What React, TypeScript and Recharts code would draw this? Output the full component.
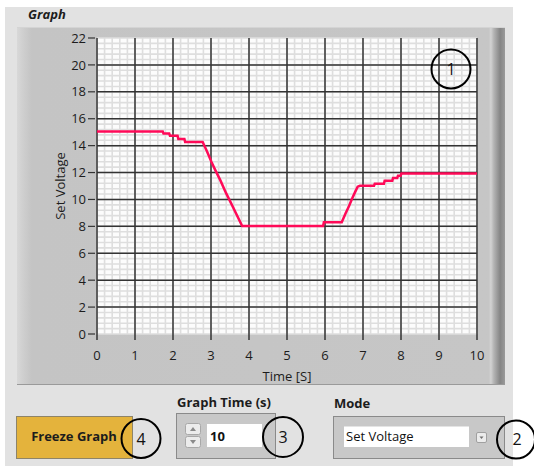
import React from 'react';
import { LineChart, Line, XAxis, YAxis, CartesianGrid } from 'recharts';

// ---- data ----
const timeS = [0, 1.73, 1.75, 1.9, 1.92, 2.12, 2.14, 2.3, 2.32, 2.78, 2.89, 3.01, 3.11, 3.25, 3.4, 3.55, 3.66, 3.82, 5.95, 5.97, 6.44, 6.54, 6.63, 6.72, 6.8, 6.86, 6.92, 7.29, 7.31, 7.55, 7.57, 7.77, 7.79, 7.9, 7.92, 7.99, 8.01, 10];
const setVoltage = [15.05, 15.05, 14.9, 14.9, 14.74, 14.74, 14.5, 14.5, 14.27, 14.27, 13.6, 12.8, 12.2, 11.4, 10.45, 9.6, 8.95, 8.03, 8.03, 8.3, 8.3, 8.95, 9.5, 10.1, 10.6, 10.95, 11.02, 11.02, 11.17, 11.17, 11.39, 11.39, 11.59, 11.59, 11.76, 11.76, 11.92, 11.92];

const xTicks = [0, 1, 2, 3, 4, 5, 6, 7, 8, 9, 10];
const yTicks = [0, 2, 4, 6, 8, 10, 12, 14, 16, 18, 20, 22];
const majorXGrid = [1, 2, 3, 4, 5, 6, 7, 8, 9];
const majorYGrid = [2, 4, 6, 8, 10, 12, 14, 16, 18, 20];
const minorXGrid = Array.from({ length: 51 }, (_, i) => Math.round(i * 2) / 10);
const minorYGrid = Array.from({ length: 56 }, (_, i) => Math.round(i * 4) / 10);
const yDomain: [number, number] = [0, 22];

const xLabel = 'Time [S]';
const yLabel = 'Set Voltage';

const data = timeS.map((t, i) => ({ t, v: setVoltage[i] }));

const FONT = '"Open Sans", "DejaVu Sans", sans-serif';
const TXT = '#1c1c1c';

// map y-values through the chart's y scale (fallback: linear over the plot box)
const yCoords = (values: number[]) => (props: any) => {
  const yAxis = props && props.yAxis;
  if (yAxis && typeof yAxis.scale === 'function') {
    return values.map((v) => yAxis.scale(v));
  }
  const off = props.offset;
  return values.map((v) => off.top + off.height * (1 - (v - yDomain[0]) / (yDomain[1] - yDomain[0])));
};

const Background = () => (
  <svg width={534} height={466} style={{ position: 'absolute', left: 0, top: 0 }}>
    <defs>
      <linearGradient id="frameG" gradientUnits="userSpaceOnUse" x1={17} y1={0} x2={505} y2={0}>
        <stop offset={0} stopColor="#d8d8d8" />
        <stop offset={0.012} stopColor="#cfcfcf" />
        <stop offset={0.03} stopColor="#c4c4c4" />
        <stop offset={0.967} stopColor="#c6c6c6" />
        <stop offset={0.971} stopColor="#d2d2d2" />
        <stop offset={0.977} stopColor="#b4b4b4" />
        <stop offset={0.99} stopColor="#858585" />
        <stop offset={1} stopColor="#9a9a9a" />
      </linearGradient>
    </defs>
    <rect x={0} y={0} width={534} height={466} fill="#ffffff" />
    <rect x={5} y={7} width={508} height={459} fill="#e2e2e2" />
    <text x={28} y={19} fontFamily={FONT} fontSize={13} fontWeight="bold" fontStyle="italic" fill={TXT}>Graph</text>
    <rect x={17} y={27} width={488} height={358} fill="url(#frameG)" />
    <line x1={17} y1={27.5} x2={505} y2={27.5} stroke="#d4d4d4" />
    <line x1={17} y1={384.5} x2={505} y2={384.5} stroke="#9a9a9a" />
  </svg>
);

const Overlay = () => (
  <svg width={534} height={466} style={{ position: 'absolute', left: 0, top: 0, pointerEvents: 'none' }}>
    {/* circle 1 */}
    <circle cx={451} cy={69} r={19.5} fill="none" stroke="#000" strokeWidth={2} />
    <text x={451} y={75} textAnchor="middle" fontFamily={FONT} fontSize={16} fill="#111">1</text>

    {/* Freeze Graph button */}
    <rect x={16.5} y={416.5} width={116} height={42} fill="#e4b33c" stroke="#8e8468" />
    <text x={74} y={441} textAnchor="middle" fontFamily={FONT} fontSize={13} fontWeight="bold" fill={TXT}>Freeze Graph</text>
    <circle cx={141} cy={438.5} r={19.5} fill="none" stroke="#000" strokeWidth={2} />
    <text x={141} y={445} textAnchor="middle" fontFamily={FONT} fontSize={16} fill="#111">4</text>

    {/* Graph Time control */}
    <text x={177} y={407} fontFamily={FONT} fontSize={13} fontWeight="bold" fill={TXT}>Graph Time (s)</text>
    <rect x={176.5} y={413.5} width={99} height={45} fill="#c8c8c8" stroke="#8a8a8a" />
    <rect x={185.5} y={423.5} width={15} height={11} rx={2} fill="#ececec" stroke="#a8a8a8" />
    <path d="M190 431 L193 427 L196 431 Z" fill="#8a8a8a" />
    <rect x={185.5} y={436.5} width={15} height={11} rx={2} fill="#ececec" stroke="#a8a8a8" />
    <path d="M190 440 L193 444 L196 440 Z" fill="#8a8a8a" />
    <rect x={207} y={424} width={55} height={23} fill="#ffffff" />
    <text x={210} y={441} fontFamily={FONT} fontSize={13} fontWeight="bold" fill="#111">10</text>
    <circle cx={283} cy={437} r={20} fill="none" stroke="#000" strokeWidth={2} />
    <text x={283} y={443} textAnchor="middle" fontFamily={FONT} fontSize={16} fill="#111">3</text>

    {/* Mode control */}
    <text x={334} y={408} fontFamily={FONT} fontSize={13} fontWeight="bold" fill={TXT}>Mode</text>
    <rect x={333.5} y={416.5} width={171} height={42} fill="#c8c8c8" stroke="#8a8a8a" />
    <rect x={344} y={426.5} width={125} height={20.5} fill="#ffffff" />
    <text x={346} y={441} fontFamily={FONT} fontSize={13} fill="#111">Set Voltage</text>
    <rect x={476.5} y={432.5} width={10} height={10} rx={1.5} fill="#ececec" stroke="#a0a0a0" />
    <path d="M479.5 436.5 L483.5 436.5 L481.5 439 Z" fill="#707070" />
    <circle cx={516} cy={439.5} r={19} fill="none" stroke="#000" strokeWidth={2} />
    <text x={517} y={445} textAnchor="middle" fontFamily={FONT} fontSize={16} fill="#111">2</text>
  </svg>
);

export default function App() {
  const tickStyle = { fill: TXT, fontSize: 13, fontFamily: FONT };
  return (
    <div style={{ position: 'absolute', left: 0, top: 0, width: 534, height: 466, overflow: 'hidden' }}>
      <Background />
      <div style={{ position: 'absolute', left: 0, top: 0 }}>
        <LineChart width={534} height={466} data={data} margin={{ top: 38, right: 57, bottom: 82, left: 52 }}>
          <XAxis xAxisId="minor" type="number" dataKey="t" domain={[0, 10]} ticks={minorXGrid} interval={0} hide />
          <XAxis xAxisId="major" type="number" dataKey="t" domain={[0, 10]} ticks={majorXGrid} interval={0} hide />
          <CartesianGrid
            xAxisId="minor"
            stroke="#dedede"
            strokeWidth={1.6}
            fill="#fcfcfc"
            fillOpacity={1}
            horizontalCoordinatesGenerator={yCoords(minorYGrid)}
          />
          <CartesianGrid
            xAxisId="major"
            stroke="#333333"
            strokeWidth={1.5}
            horizontalCoordinatesGenerator={yCoords(majorYGrid)}
          />
          <XAxis
            type="number"
            dataKey="t"
            domain={[0, 10]}
            ticks={xTicks}
            height={50}
            axisLine={false}
            tickSize={10}
            tickMargin={7}
            tickLine={{ stroke: '#333', strokeWidth: 1.5, strokeDasharray: '0 4 6 100' }}
            tick={tickStyle}
            interval={0}
            label={{ value: xLabel, position: 'insideBottom', offset: 3, style: { fill: TXT, fontSize: 13, fontFamily: FONT } }}
          />
          <YAxis
            type="number"
            domain={yDomain}
            ticks={yTicks}
            width={45}
            axisLine={false}
            tickSize={9}
            tickMargin={2}
            tickLine={{ stroke: '#333', strokeWidth: 1.2, strokeDasharray: '7 10' }}
            tick={tickStyle}
            interval={0}
            label={{ value: yLabel, angle: -90, position: 'insideLeft', offset: 8, style: { textAnchor: 'middle', fill: TXT, fontSize: 13, fontFamily: FONT } }}
          />
          <Line type="linear" dataKey="v" stroke="#ff0a58" strokeWidth={2.5} dot={false} activeDot={false} isAnimationActive={false} />
        </LineChart>
      </div>
      <Overlay />
    </div>
  );
}
